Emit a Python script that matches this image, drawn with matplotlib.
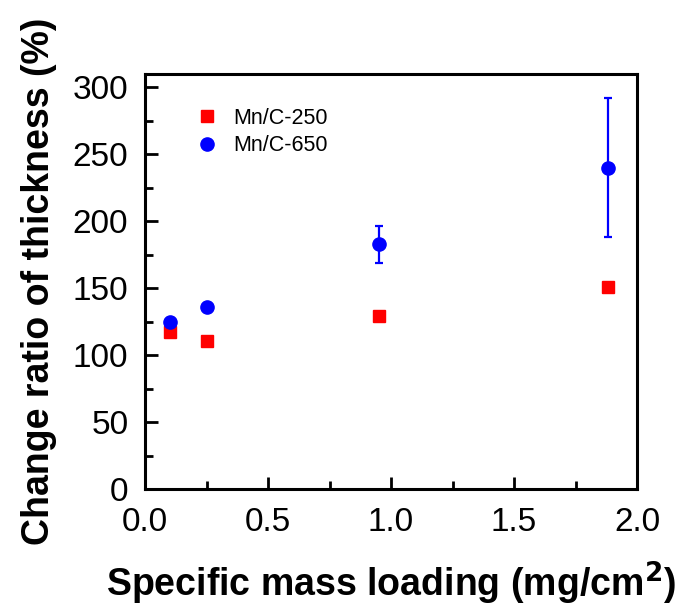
import matplotlib
matplotlib.use('Agg')
import matplotlib.pyplot as plt
from matplotlib.lines import Line2D
from matplotlib.ticker import MultipleLocator

plt.rcParams['font.family'] = ['Liberation Sans', 'DejaVu Sans']

# data
loading = [0.1, 0.25, 0.95, 1.88]
mnc250 = [117.5, 110.5, 129, 151]
mnc650 = [125, 136, 183, 240]
mnc650_err_lo = [0, 0, 14, 52]
mnc650_err_hi = [0, 0, 13.5, 52]

fig = plt.figure(figsize=(6.83, 6.13), dpi=100)
ax = fig.add_axes([0.2123, 0.2023, 0.7204, 0.677])

ax.plot(loading, mnc250, 's', color='red', markersize=8.5, zorder=3)
ax.errorbar(loading, mnc650, yerr=[mnc650_err_lo, mnc650_err_hi], fmt='o',
            color='blue', ecolor='blue', markersize=9.5, elinewidth=1.6,
            capsize=3, capthick=1.6, zorder=3)

ax.set_xlim(0, 2.0)
ax.set_ylim(0, 310)
ax.xaxis.set_major_locator(MultipleLocator(0.5))
ax.xaxis.set_minor_locator(MultipleLocator(0.25))
ax.yaxis.set_major_locator(MultipleLocator(50))
ax.yaxis.set_minor_locator(MultipleLocator(25))
ax.set_xticks([0.0, 0.5, 1.0, 1.5, 2.0])
ax.set_xticklabels(['0.0', '0.5', '1.0', '1.5', '2.0'])

for s in ax.spines.values():
    s.set_linewidth(2.2)
ax.tick_params(which='major', direction='in', length=9, width=2, labelsize=24)
ax.tick_params(axis='x', which='major', pad=13)
ax.tick_params(axis='y', which='major', pad=12)
ax.tick_params(which='minor', direction='in', length=5.5, width=2)

ax.set_xlabel('Specific mass loading (mg/cm$^{\\mathbf{2}}$)', fontsize=27,
              fontweight='bold', labelpad=16)
ax.set_ylabel('Change ratio of thickness (%)', fontsize=27, fontweight='bold', labelpad=11)

handles = [Line2D([], [], ls='none', marker='s', color='red', markersize=8.5),
           Line2D([], [], ls='none', marker='o', color='blue', markersize=9.5)]
ax.legend(handles, ['Mn/C-250', 'Mn/C-650'], loc='upper left', bbox_to_anchor=(0.06, 0.965),
          frameon=False, fontsize=15.5, handletextpad=0.65, labelspacing=0.3, handlelength=1.2)

fig.savefig('out.png', dpi=100)
